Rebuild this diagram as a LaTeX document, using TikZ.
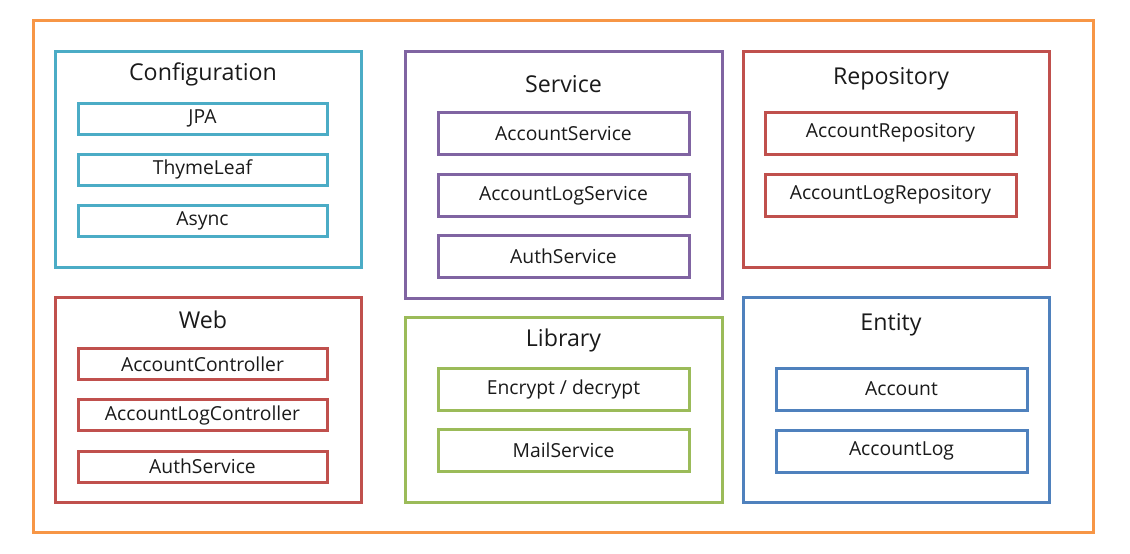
\documentclass[tikz,border=0pt]{standalone}
\usepackage{fontspec}
\setmainfont{Open Sans}
\usepackage{tikz}
\definecolor{frameorange}{HTML}{F79646}
\definecolor{cfgteal}{HTML}{4BACC6}
\definecolor{srvpurple}{HTML}{8064A2}
\definecolor{repored}{HTML}{C0504D}
\definecolor{libgreen}{HTML}{9BBB59}
\definecolor{entblue}{HTML}{4F81BD}
\definecolor{txt}{HTML}{1A1A1A}
\tikzset{
    group/.style={line width=3pt},
    title/.style={text=txt, font=\fontsize{23.2}{27}\selectfont},
    item/.style={draw, line width=3pt, inner sep=0pt, text=txt,
        font=\fontsize{19.3}{23}\selectfont, minimum width=251pt, minimum height=42pt},
    thin item/.style={item, minimum width=249pt, minimum height=31pt}
}
\begin{document}
\begin{tikzpicture}[x=1pt,y=-1pt]
    \useasboundingbox (0,0) rectangle (1130,554);

    % outer frame
    \draw[line width=3pt, frameorange] (33,20) rectangle (1093,532);

    % Configuration
    \draw[group, cfgteal] (55,51) rectangle (361,267);
    \node[title] (cfg) at (203,74) {Configuration};
    \node[thin item, cfgteal] (jpa) at (202.5,118.5) {\textcolor{txt}{JPA}};
    \node[thin item, cfgteal] (thyme) at (202.5,169.5) {\textcolor{txt}{ThymeLeaf}};
    \node[thin item, cfgteal] (async) at (202.5,220.5) {\textcolor{txt}{Async}};

    % Service
    \draw[group, srvpurple] (405,51) rectangle (722,298);
    \node[title] (srv) at (563.5,84) {Service};
    \node[item, srvpurple] (accsrv) at (563.5,133.5) {\textcolor{txt}{AccountService}};
    \node[item, srvpurple] (logsrv) at (563.5,195.5) {\textcolor{txt}{AccountLogService}};
    \node[item, srvpurple] (authsrv) at (563.5,256.5) {\textcolor{txt}{AuthService}};

    % Repository
    \draw[group, repored] (743,51) rectangle (1049,267);
    \node[title] (repo) at (891,79) {Repository};
    \node[item, repored] (accrepo) at (890.5,133) {\textcolor{txt}{AccountRepository}};
    \node[item, repored] (logrepo) at (890.5,195) {\textcolor{txt}{AccountLogRepository}};

    % Web
    \draw[group, repored] (55,297) rectangle (361,502);
    \node[title] (web) at (203,320) {Web};
    \node[thin item, repored] (accctl) at (202.5,364) {\textcolor{txt}{AccountController}};
    \node[thin item, repored] (logctl) at (202.5,415) {\textcolor{txt}{AccountLogController}};
    \node[thin item, repored] (authweb) at (202.5,466.5) {\textcolor{txt}{AuthService}};

    % Library
    \draw[group, libgreen] (405,317) rectangle (722,502);
    \node[title] (lib) at (563.5,340) {Library};
    \node[item, libgreen] (crypt) at (563.5,389) {\textcolor{txt}{Encrypt / decrypt}};
    \node[item, libgreen] (mail) at (563.5,450) {\textcolor{txt}{MailService}};

    % Entity
    \draw[group, entblue] (743,297) rectangle (1049,502);
    \node[title] (ent) at (891,325) {Entity};
    \node[item, entblue] (acc) at (901.5,389) {\textcolor{txt}{Account}};
    \node[item, entblue] (acclog) at (901.5,451) {\textcolor{txt}{AccountLog}};

\end{tikzpicture}
\end{document}
